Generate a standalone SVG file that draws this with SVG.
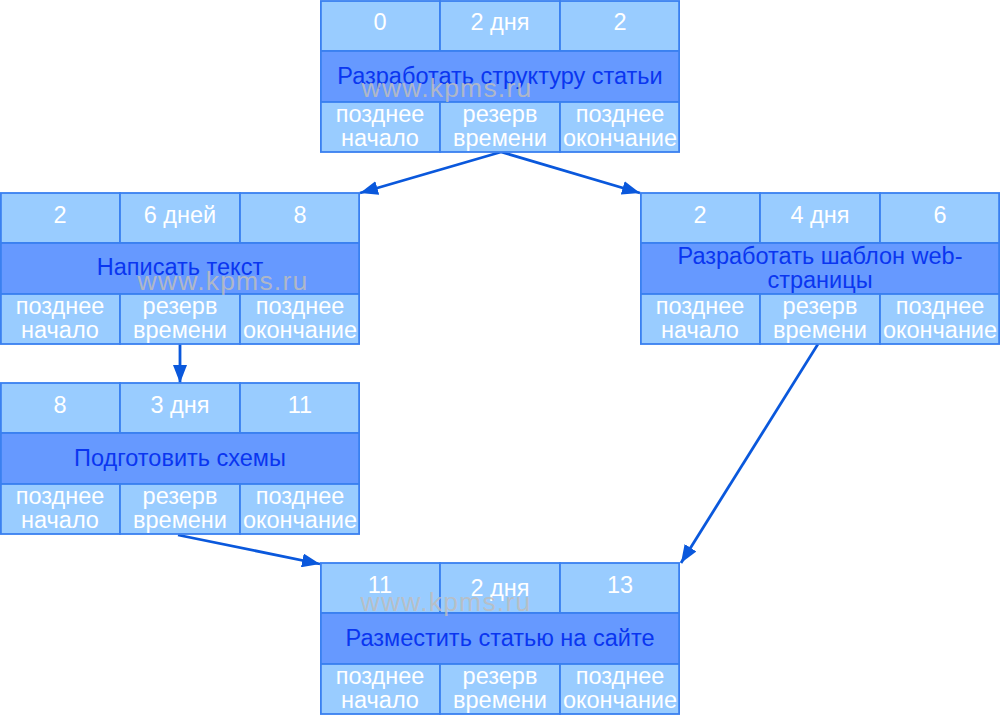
<svg xmlns="http://www.w3.org/2000/svg" width="1000" height="715" viewBox="0 0 1000 715">
<style>
.lt{fill:#99CCFF;stroke:#3A80F0;stroke-width:1.8}
.md{fill:#6699FF;stroke:#3A80F0;stroke-width:1.8}
text{font-family:"Liberation Sans",Arial,sans-serif;font-size:23.5px;text-anchor:middle}
.w{fill:#FFFFFF}
.b{fill:#0A36F0}
.wm{fill:#BDBDBD;fill-opacity:0.85;font-size:26.5px;letter-spacing:1.2px}
.c{stroke:#0A58DC;stroke-width:2.8;fill:none;marker-end:url(#ah)}
</style>
<defs>
<marker id="ah" markerUnits="userSpaceOnUse" markerWidth="19" markerHeight="14" refX="18" refY="7" orient="auto">
<path d="M0,0 L18,7 L0,14 Z" fill="#0A58DC"/>
</marker>
<g id="cells">
<rect class="lt" x="0.9" y="0" width="119.1" height="50"/>
<rect class="lt" x="120" y="0" width="120" height="50"/>
<rect class="lt" x="240" y="0" width="119.1" height="50"/>
<rect class="md" x="0.9" y="50" width="358.2" height="51"/>
<rect class="lt" x="0.9" y="101" width="119.1" height="50"/>
<rect class="lt" x="120" y="101" width="120" height="50"/>
<rect class="lt" x="240" y="101" width="119.1" height="50"/>
<text class="w" x="60" y="121">позднее</text>
<text class="w" x="60" y="145">начало</text>
<text class="w" x="180" y="121">резерв</text>
<text class="w" x="180" y="145">времени</text>
<text class="w" x="300" y="121">позднее</text>
<text class="w" x="300" y="145">окончание</text>
</g>
</defs>

<g id="connectors">
<line class="c" x1="501" y1="152" x2="360" y2="193"/>
<line class="c" x1="501" y1="152" x2="640" y2="193"/>
<line class="c" x1="180" y1="344" x2="180" y2="383"/>
<line class="c" x1="178" y1="535" x2="320" y2="564"/>
<line class="c" x1="818" y1="344" x2="681" y2="563"/>
</g>

<g id="node1" transform="translate(320,1)">
<use href="#cells"/>
<text class="w" x="60" y="29">0</text>
<text class="w" x="180" y="29">2 дня</text>
<text class="w" x="300" y="29">2</text>
<text class="b" x="180" y="83">Разработать структуру статьи</text>
<text class="wm" x="127" y="96">www.kpms.ru</text>
</g>

<g id="node2" transform="translate(0,193)">
<use href="#cells"/>
<text class="w" x="60" y="30">2</text>
<text class="w" x="180" y="30">6 дней</text>
<text class="w" x="300" y="30">8</text>
<text class="b" x="180" y="82">Написать текст</text>
<text class="wm" x="223" y="97">www.kpms.ru</text>
</g>

<g id="node3" transform="translate(640,193)">
<use href="#cells"/>
<text class="w" x="60" y="30">2</text>
<text class="w" x="180" y="30">4 дня</text>
<text class="w" x="300" y="30">6</text>
<text class="b" x="180" y="71">Разработать шаблон web-</text>
<text class="b" x="180" y="95">страницы</text>
</g>

<g id="node4" transform="translate(0,383)">
<use href="#cells"/>
<text class="w" x="60" y="30">8</text>
<text class="w" x="180" y="30">3 дня</text>
<text class="w" x="300" y="30">11</text>
<text class="b" x="180" y="83">Подготовить схемы</text>
</g>

<g id="node5" transform="translate(320,563)">
<use href="#cells"/>
<text class="w" x="60" y="30">11</text>
<text class="w" x="180" y="33">2 дня</text>
<text class="w" x="300" y="30">13</text>
<text class="b" x="180" y="83">Разместить статью на сайте</text>
<text class="wm" x="126" y="48">www.kpms.ru</text>
</g>
</svg>
